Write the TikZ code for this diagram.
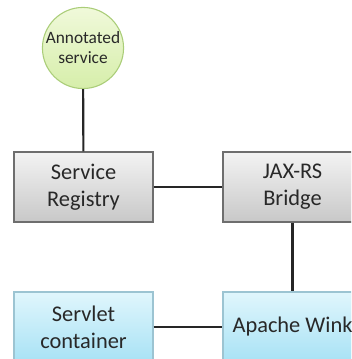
\documentclass[tikz,border=0pt]{standalone}
\usepackage{fontspec}
\setmainfont{Carlito}
\usetikzlibrary{shadows}

\definecolor{boxgraytop}{RGB}{243,243,243}
\definecolor{boxgraybot}{RGB}{200,200,200}
\definecolor{boxbluetop}{RGB}{224,246,252}
\definecolor{boxbluebot}{RGB}{168,226,245}
\definecolor{circtop}{RGB}{240,249,218}
\definecolor{circbot}{RGB}{214,238,170}
\definecolor{circline}{RGB}{170,205,120}
\definecolor{boxline}{RGB}{110,110,110}
\definecolor{textgray}{RGB}{40,40,40}

\tikzset{
    part/.style={rectangle, draw=boxline, line width=0.9pt, minimum width=104.25pt, minimum height=52.5pt,
        inner sep=0pt, align=center, text=textgray, font=\fontsize{16.8}{20.3}\selectfont,
        drop shadow={shadow xshift=1pt, shadow yshift=-1pt, opacity=0.25}},
    graypart/.style={part, top color=boxgraytop, bottom color=boxgraybot},
    bluepart/.style={part, draw=boxbluebot!70!gray, top color=boxbluetop, bottom color=boxbluebot},
    service/.style={circle, draw=circline, line width=0.8pt, minimum size=54pt, inner sep=0pt,
        align=center, text=textgray, font=\fontsize{13}{15}\selectfont,
        top color=circtop, bottom color=circbot},
    link/.style={line width=1.6pt, draw=black!85}
}

\begin{document}
\begin{tikzpicture}[x=0.75pt,y=0.75pt,yscale=-1,xscale=1]
        \useasboundingbox (0,0) rectangle (351,359);
        \clip (0,0) rectangle (351,359);

        %Shape: Circle [id:annotated]
        \node[service] (annot) at (83,48) {Annotated\\service};
        %Shape: Rectangle [id:registry]
        \node[graypart] (registry) at (83.5,187) {Service\\Registry};
        %Shape: Rectangle [id:bridge]
        \node[graypart] (bridge) at (292.5,187) {JAX-RS\\Bridge};
        %Shape: Rectangle [id:servlet]
        \node[bluepart] (servlet) at (83.5,327) {Servlet\\container};
        %Shape: Rectangle [id:wink]
        \node[bluepart] (wink) at (292.5,327) {Apache Wink};

        %Straight Lines
        \draw[link] (annot) -- (registry);
        %Straight Lines
        \draw[link] (registry) -- (bridge);
        %Straight Lines
        \draw[link] (bridge) -- (wink);
        %Straight Lines
        \draw[link] (servlet) -- (wink);

    \end{tikzpicture}
\end{document}
